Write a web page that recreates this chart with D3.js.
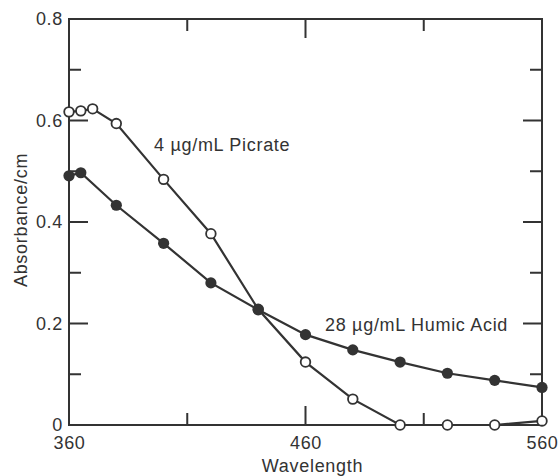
<!DOCTYPE html>
<html>
<head>
<meta charset="utf-8">
<script src="https://cdn.jsdelivr.net/npm/d3@7"></script>
<style>
  html, body { margin: 0; padding: 0; background: #fff; }
  svg text { font-family: "Liberation Sans", Arial, sans-serif; font-size: 18px; letter-spacing: 0.7px; fill: #333; }
</style>
</head>
<body>
<div id="chart"></div>
<script>
// ── Data ──────────────────────────────────────────────────────────────────────
const PICRATE_WL  = [360, 365, 370, 380, 400, 420, 440, 460, 480, 500, 520, 540, 560];
const PICRATE_ABS = [0.617, 0.619, 0.623, 0.594, 0.484, 0.377, 0.228, 0.124, 0.051, 0.0, 0.0, 0.0, 0.008];
const HUMIC_WL    = [360, 365, 380, 400, 420, 440, 460, 480, 500, 520, 540, 560];
const HUMIC_ABS   = [0.491, 0.497, 0.433, 0.358, 0.280, 0.227, 0.178, 0.148, 0.124, 0.102, 0.088, 0.074];

const X_MAJOR = [360, 460, 560];
const X_MINOR = [410, 510];
const Y_MAJOR = [0, 0.2, 0.4, 0.6, 0.8];
const Y_MINOR = [0.1, 0.3, 0.5, 0.7];

const INK = "#333";

// ── Dimensions ────────────────────────────────────────────────────────────────
const W = 558, H = 476;
const margin = { top: 19, right: 16, bottom: 51, left: 69 };
const width  = W - margin.left - margin.right;
const height = H - margin.top  - margin.bottom;

const svg = d3.select("#chart").append("svg")
  .attr("width", W).attr("height", H)
  .append("g")
  .attr("transform", `translate(${margin.left},${margin.top})`);

// ── Scales ────────────────────────────────────────────────────────────────────
const x = d3.scaleLinear().domain([360, 560]).range([0, width]);
const y = d3.scaleLinear().domain([0, 0.8]).range([height, 0]);

const MAJ = 19, MIN = 12;
const yFmt = d => d === 0 ? "0" : d.toFixed(1);

// ── Tick labels (d3 axes) ─────────────────────────────────────────────────────
const xAxisG = svg.append("g").attr("transform", `translate(0,${height})`)
  .call(d3.axisBottom(x).tickValues(X_MAJOR).tickSize(0).tickPadding(11).tickFormat(d3.format("d")));
const yAxisG = svg.append("g")
  .call(d3.axisLeft(y).tickValues(Y_MAJOR).tickSize(0).tickPadding(6).tickFormat(yFmt));

[xAxisG, yAxisG].forEach(g => {
  g.select(".domain").remove();
  g.selectAll("text").attr("fill", INK).style("font-size", "18px");
});

// frame
svg.append("rect")
  .attr("width", width).attr("height", height)
  .attr("fill", "none").attr("stroke", INK).attr("stroke-width", 2);

// ── Inward ticks on all four sides ────────────────────────────────────────────
const xTicks = X_MAJOR.map(v => ({ v, len: MAJ })).concat(X_MINOR.map(v => ({ v, len: MIN })));
const yTicks = Y_MAJOR.map(v => ({ v, len: MAJ })).concat(Y_MINOR.map(v => ({ v, len: MIN })));
const tk = svg.append("g").attr("fill", INK);
tk.selectAll(".xb").data(xTicks).join("rect").attr("class", "xb")
  .attr("x", d => x(d.v) - 1).attr("y", d => height - d.len).attr("width", 2).attr("height", d => d.len);
tk.selectAll(".xt").data(xTicks).join("rect").attr("class", "xt")
  .attr("x", d => x(d.v) - 1).attr("y", 0).attr("width", 2).attr("height", d => d.len);
tk.selectAll(".yl").data(yTicks).join("rect").attr("class", "yl")
  .attr("x", 0).attr("y", d => y(d.v) - 1).attr("width", d => d.len).attr("height", 2);
tk.selectAll(".yr").data(yTicks).join("rect").attr("class", "yr")
  .attr("x", d => width - d.len).attr("y", d => y(d.v) - 1).attr("width", d => d.len).attr("height", 2);

// ── Axis titles ───────────────────────────────────────────────────────────────
svg.append("text")
  .attr("x", x(460) + 7).attr("y", height + 47)
  .attr("text-anchor", "middle")
  .text("Wavelength");

svg.append("text")
  .attr("transform", `translate(${-42},${y(0.4) - 2}) rotate(-90)`)
  .attr("text-anchor", "middle")
  .text("Absorbance/cm");

// ── Series ────────────────────────────────────────────────────────────────────
const picrate = PICRATE_WL.map((w, i) => ({ w, a: PICRATE_ABS[i] }));
const humic   = HUMIC_WL.map((w, i) => ({ w, a: HUMIC_ABS[i] }));

const line = d3.line().x(d => x(d.w)).y(d => y(d.a));

[picrate, humic].forEach(data => {
  svg.append("path").datum(data)
    .attr("d", line)
    .attr("fill", "none").attr("stroke", INK).attr("stroke-width", 2.2);
});

svg.append("g").selectAll("circle").data(picrate).join("circle")
  .attr("cx", d => x(d.w)).attr("cy", d => y(d.a)).attr("r", 4.8)
  .attr("fill", "#fff").attr("stroke", INK).attr("stroke-width", 1.8);

svg.append("g").selectAll("circle").data(humic).join("circle")
  .attr("cx", d => x(d.w)).attr("cy", d => y(d.a)).attr("r", 5.6)
  .attr("fill", INK);

// ── Series labels ─────────────────────────────────────────────────────────────
svg.append("text")
  .attr("x", 154 - margin.left).attr("y", 151 - margin.top)
  .text("4 µg/mL Picrate");

svg.append("text")
  .attr("x", 325 - margin.left).attr("y", 331 - margin.top)
  .text("28 µg/mL Humic Acid");
</script>
</body>
</html>
